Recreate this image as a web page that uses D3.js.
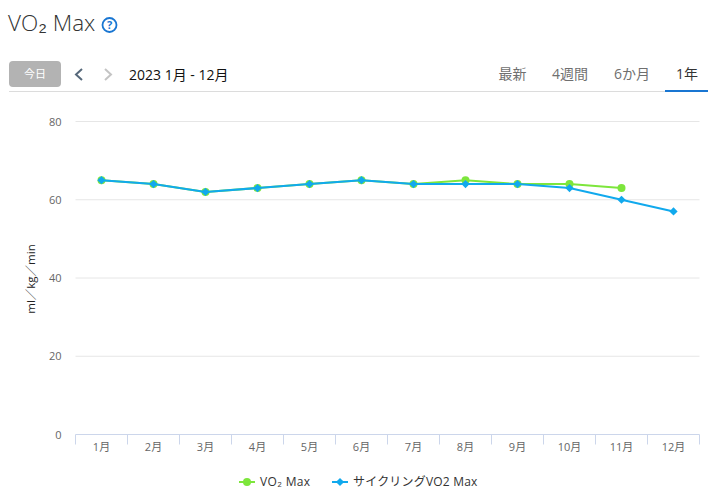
<!DOCTYPE html>
<html>
<head>
<meta charset="utf-8">
<script src="https://cdn.jsdelivr.net/npm/d3@7"></script>
<style>
    html, body { margin: 0; padding: 0; background: #fff; }
    svg { display: block; }
    text { font-family: "Open Sans", "Noto Sans CJK JP", sans-serif; }
    .domain { display: none; }
</style>
</head>
<body>
<div id="graph"></div>
<script>
const months = ["1月", "2月", "3月", "4月", "5月", "6月", "7月", "8月", "9月", "10月", "11月", "12月"];
const vo2Max = [65, 64, 62, 63, 64, 65, 64, 65, 64, 64, 63, null];
const cyclingVo2Max = [65, 64, 62, 63, 64, 65, 64, 64, 64, 63, 60, 57];
const yTicks = [0, 20, 40, 60, 80];
const tabs = ["最新", "4週間", "6か月", "1年"];

const green = "#7de63c";
const blue = "#11a9ed";
const subFont = "'Noto Sans CJK JP', sans-serif";

const svg = d3.select("#graph")
    .append("svg")
    .attr("width", 720)
    .attr("height", 500);

// header
const title = svg.append("text").attr("x", 8).attr("y", 31)
    .attr("font-size", 22.5).attr("fill", "#333").attr("font-weight", 300);
title.append("tspan").text("VO");
title.append("tspan").style("font-family", subFont).attr("font-weight", 400).text("₂");
title.append("tspan").text(" Max");

const help = svg.append("g").attr("transform", "translate(109.5,25)");
help.append("circle").attr("r", 7).attr("fill", "none").attr("stroke", "#1976d2").attr("stroke-width", 1.8);
help.append("text").attr("text-anchor", "middle").attr("y", 4)
    .attr("font-size", 11).attr("font-weight", 700).attr("fill", "#1976d2").text("?");

svg.append("rect").attr("x", 9).attr("y", 61).attr("width", 52).attr("height", 26).attr("rx", 4).attr("fill", "#b3b3b3");
svg.append("text").attr("x", 35).attr("y", 78).attr("text-anchor", "middle")
    .attr("font-size", 11).attr("fill", "#fff").text("今日");

svg.append("path").attr("d", "M82,69 L76,74.5 L82,80").attr("fill", "none").attr("stroke", "#56687a").attr("stroke-width", 2);
svg.append("path").attr("d", "M105,69 L111,74.5 L105,80").attr("fill", "none").attr("stroke", "#c4c4c4").attr("stroke-width", 2);

svg.append("text").attr("x", 129).attr("y", 80)
    .attr("font-size", 14).attr("fill", "#111").text("2023 1月 - 12月");

const tabX = [512.5, 570, 632, 687];
svg.selectAll(".tab")
    .data(tabs)
    .enter().append("text")
    .attr("class", "tab")
    .attr("x", (d, i) => tabX[i])
    .attr("y", 79)
    .attr("text-anchor", "middle")
    .attr("font-size", 14)
    .attr("fill", (d, i) => i === 3 ? "#333" : "#6f6f6f")
    .text(d => d);

svg.append("line").attr("x1", 9).attr("x2", 708).attr("y1", 91.5).attr("y2", 91.5).attr("stroke", "#dcdcdc");
svg.append("line").attr("x1", 665).attr("x2", 708).attr("y1", 91).attr("y2", 91).attr("stroke", "#1976d2").attr("stroke-width", 2);

// chart
const x = d3.scaleBand().domain(months).range([75.5, 699.5]);
const y = d3.scaleLinear().domain([0, 80]).range([434.5, 121.5]);

const yAxis = svg.append("g")
    .attr("transform", "translate(75.5,0)")
    .call(d3.axisLeft(y).tickValues(yTicks).tickSize(0).tickPadding(14));
yAxis.selectAll("text").attr("font-size", 11).attr("fill", "#666");
yAxis.attr("font-family", null);

svg.selectAll(".grid")
    .data(yTicks.filter(d => d > 0))
    .enter().append("line")
    .attr("class", "grid")
    .attr("x1", x.range()[0])
    .attr("x2", x.range()[1])
    .attr("y1", d => y(d))
    .attr("y2", d => y(d))
    .attr("stroke", "#e6e6e6");

const xAxis = svg.append("g")
    .attr("transform", "translate(0,434.5)")
    .call(d3.axisBottom(x).tickSize(0).tickPadding(9));
xAxis.selectAll("text").attr("font-size", 11).attr("fill", "#666");
xAxis.attr("font-family", null);

svg.append("line")
    .attr("x1", x.range()[0]).attr("x2", x.range()[1])
    .attr("y1", y(0)).attr("y2", y(0))
    .attr("stroke", "#ccd6eb");

svg.selectAll(".bandTick")
    .data(months.concat("end"))
    .enter().append("line")
    .attr("class", "bandTick")
    .attr("x1", (d, i) => x.range()[0] + i * x.step())
    .attr("x2", (d, i) => x.range()[0] + i * x.step())
    .attr("y1", y(0))
    .attr("y2", y(0) + 10)
    .attr("stroke", "#ccd6eb");

svg.append("text")
    .attr("transform", "translate(35,279) rotate(-90)")
    .attr("text-anchor", "middle")
    .attr("font-size", 11.5)
    .attr("fill", "#222")
    .text("ml／kg／min");

const line = d3.line()
    .defined(d => d != null)
    .x((d, i) => x(months[i]) + x.bandwidth() / 2)
    .y(d => y(d));

// square turned 45deg, d3's own diamond is too narrow
const diamond = d3.symbol().type(d3.symbolSquare).size(34);

svg.append("path").datum(vo2Max)
    .attr("fill", "none").attr("stroke", green).attr("stroke-width", 2).attr("d", line);
svg.selectAll(".dotGreen")
    .data(vo2Max)
    .enter().filter(d => d != null).append("circle")
    .attr("class", "dotGreen")
    .attr("cx", (d, i) => x(months[i]) + x.bandwidth() / 2)
    .attr("cy", d => y(d))
    .attr("r", 4)
    .attr("fill", green);

svg.append("path").datum(cyclingVo2Max)
    .attr("fill", "none").attr("stroke", blue).attr("stroke-width", 2).attr("d", line);
svg.selectAll(".dotBlue")
    .data(cyclingVo2Max)
    .enter().append("path")
    .attr("class", "dotBlue")
    .attr("d", diamond)
    .attr("transform", (d, i) => `translate(${x(months[i]) + x.bandwidth() / 2},${y(d)}) rotate(45)`)
    .attr("fill", blue);

// legend
svg.append("line").attr("x1", 239).attr("x2", 255).attr("y1", 482).attr("y2", 482).attr("stroke", green).attr("stroke-width", 2);
svg.append("circle").attr("cx", 247).attr("cy", 482).attr("r", 4).attr("fill", green);
const legendVo2 = svg.append("text").attr("x", 260).attr("y", 486).attr("font-size", 12).attr("fill", "#333").attr("letter-spacing", 0.35);
legendVo2.append("tspan").text("VO");
legendVo2.append("tspan").style("font-family", subFont).text("₂");
legendVo2.append("tspan").text(" Max");

svg.append("line").attr("x1", 332).attr("x2", 348).attr("y1", 482).attr("y2", 482).attr("stroke", blue).attr("stroke-width", 2);
svg.append("path").attr("d", diamond).attr("transform", "translate(340,482) rotate(45)").attr("fill", blue);
svg.append("text").attr("x", 353).attr("y", 486).attr("font-size", 12).attr("fill", "#333").attr("letter-spacing", 0.2).text("サイクリングVO2 Max");
</script>
</body>
</html>
